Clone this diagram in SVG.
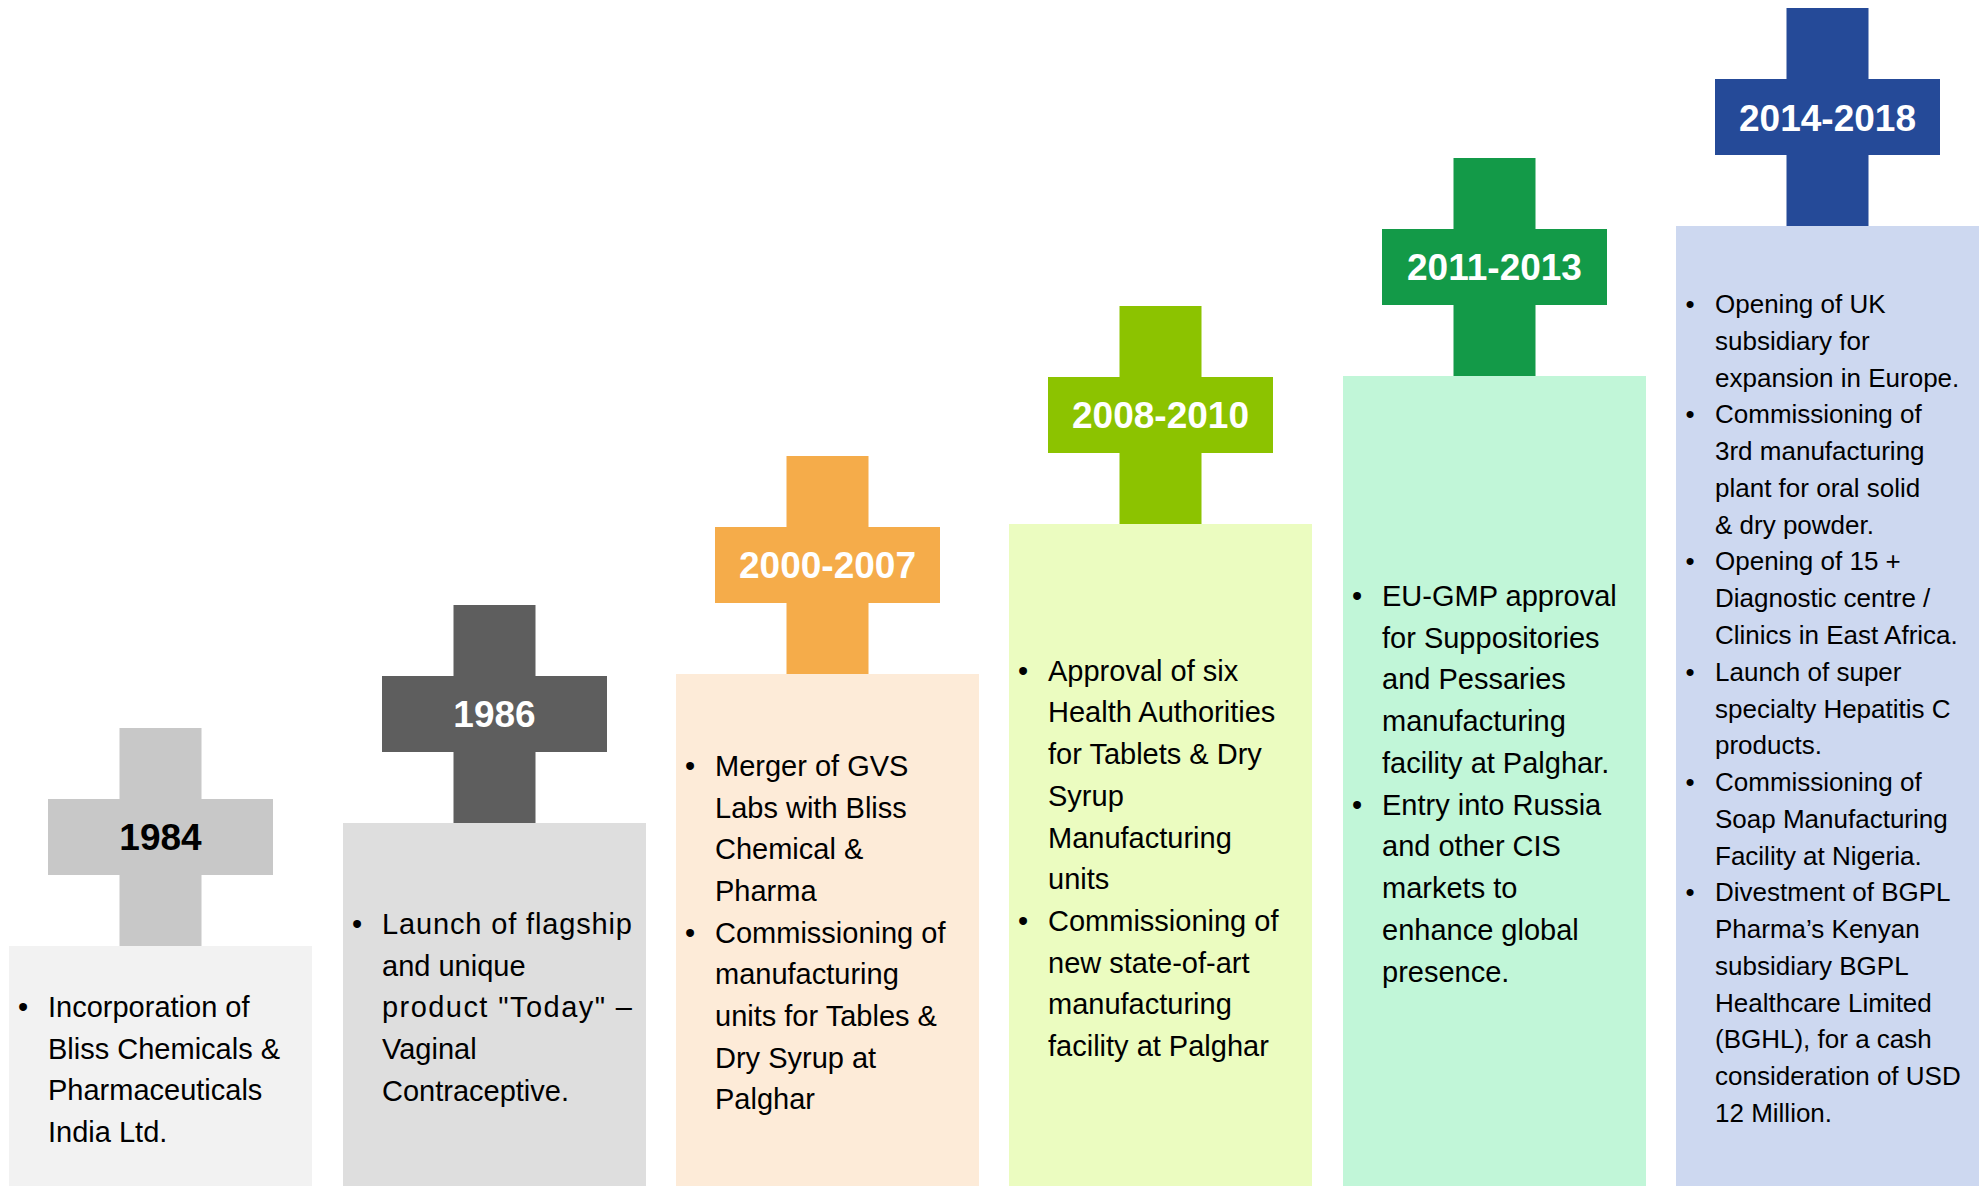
<svg xmlns="http://www.w3.org/2000/svg" width="1983" height="1186" viewBox="0 0 1983 1186">
<style>
.yr{font-family:"Liberation Sans",Arial,sans-serif;font-weight:bold;font-size:37px;text-anchor:middle}
.tx{font-family:"Liberation Sans",Arial,sans-serif;font-size:29px;fill:#000}
.tx6{font-family:"Liberation Sans",Arial,sans-serif;font-size:26px;fill:#000}
.bl{text-anchor:middle}
</style>
<rect width="1983" height="1186" fill="#fff"/>
<g id="connectors"/>
<g id="n1984">
<rect x="9" y="946" width="303" height="240" fill="#F2F2F2"/>
<path d="M119.5 728 H201.5 V799 H273 V875 H201.5 V946 H119.5 V875 H48 V799 H119.5 Z" fill="#C8C8C8"/>
<text class="yr" x="160.5" y="850" fill="#000">1984</text>
<text class="tx bl" x="23" y="1017">•</text>
<text class="tx"><tspan x="48" y="1017">Incorporation of</tspan><tspan x="48" y="1059">Bliss Chemicals &amp;</tspan><tspan x="48" y="1100">Pharmaceuticals</tspan><tspan x="48" y="1142">India Ltd.</tspan></text>
</g>
<g id="n1986">
<rect x="343" y="823" width="303" height="363" fill="#DEDEDE"/>
<path d="M453.5 605 H535.5 V676 H607 V752 H535.5 V823 H453.5 V752 H382 V676 H453.5 Z" fill="#5E5E5E"/>
<text class="yr" x="494.5" y="727" fill="#fff">1986</text>
<text class="tx bl" x="357" y="934">•</text>
<text class="tx"><tspan x="382" y="934" textLength="250" lengthAdjust="spacing">Launch of flagship</tspan><tspan x="382" y="976">and unique</tspan><tspan x="382" y="1017" textLength="250" lengthAdjust="spacing">product "Today" –</tspan><tspan x="382" y="1059">Vaginal</tspan><tspan x="382" y="1101">Contraceptive.</tspan></text>
</g>
<g id="n2000">
<rect x="676" y="674" width="303" height="512" fill="#FDEBD8"/>
<path d="M786.5 456 H868.5 V527 H940 V603 H868.5 V674 H786.5 V603 H715 V527 H786.5 Z" fill="#F5AC4A"/>
<text class="yr" x="827.5" y="578" fill="#fff">2000-2007</text>
<text class="tx bl" x="690" y="776">•</text>
<text class="tx bl" x="690" y="943">•</text>
<text class="tx"><tspan x="715" y="776">Merger of GVS</tspan><tspan x="715" y="818">Labs with Bliss</tspan><tspan x="715" y="859">Chemical &amp;</tspan><tspan x="715" y="901">Pharma</tspan><tspan x="715" y="943">Commissioning of</tspan><tspan x="715" y="984">manufacturing</tspan><tspan x="715" y="1026">units for Tables &amp;</tspan><tspan x="715" y="1068">Dry Syrup at</tspan><tspan x="715" y="1109">Palghar</tspan></text>
</g>
<g id="n2008">
<rect x="1009" y="524" width="303" height="662" fill="#EBFCC0"/>
<path d="M1119.5 306 H1201.5 V377 H1273 V453 H1201.5 V524 H1119.5 V453 H1048 V377 H1119.5 Z" fill="#8CC300"/>
<text class="yr" x="1160.5" y="428" fill="#fff">2008-2010</text>
<text class="tx bl" x="1023" y="681">•</text>
<text class="tx bl" x="1023" y="931">•</text>
<text class="tx"><tspan x="1048" y="681">Approval of six</tspan><tspan x="1048" y="722">Health Authorities</tspan><tspan x="1048" y="764">for Tablets &amp; Dry</tspan><tspan x="1048" y="806">Syrup</tspan><tspan x="1048" y="848">Manufacturing</tspan><tspan x="1048" y="889">units</tspan><tspan x="1048" y="931">Commissioning of</tspan><tspan x="1048" y="973">new state-of-art</tspan><tspan x="1048" y="1014">manufacturing</tspan><tspan x="1048" y="1056">facility at Palghar</tspan></text>
</g>
<g id="n2011">
<rect x="1343" y="376" width="303" height="810" fill="#C1F6D8"/>
<path d="M1453.5 158 H1535.5 V229 H1607 V305 H1535.5 V376 H1453.5 V305 H1382 V229 H1453.5 Z" fill="#139A48"/>
<text class="yr" x="1494.5" y="280" fill="#fff">2011-2013</text>
<text class="tx bl" x="1357" y="606">•</text>
<text class="tx bl" x="1357" y="815">•</text>
<text class="tx"><tspan x="1382" y="606">EU-GMP approval</tspan><tspan x="1382" y="648">for Suppositories</tspan><tspan x="1382" y="689">and Pessaries</tspan><tspan x="1382" y="731">manufacturing</tspan><tspan x="1382" y="773">facility at Palghar.</tspan><tspan x="1382" y="815">Entry into Russia</tspan><tspan x="1382" y="856">and other CIS</tspan><tspan x="1382" y="898">markets to</tspan><tspan x="1382" y="940">enhance global</tspan><tspan x="1382" y="982">presence.</tspan></text>
</g>
<g id="n2014">
<rect x="1676" y="226" width="303" height="960" fill="#CDD8F0"/>
<path d="M1786.5 8 H1868.5 V79 H1940 V155 H1868.5 V226 H1786.5 V155 H1715 V79 H1786.5 Z" fill="#254A98"/>
<text class="yr" x="1827.5" y="131" fill="#fff">2014-2018</text>
<text class="tx6 bl" x="1690" y="313">•</text>
<text class="tx6 bl" x="1690" y="423.3">•</text>
<text class="tx6 bl" x="1690" y="570.4">•</text>
<text class="tx6 bl" x="1690" y="680.7">•</text>
<text class="tx6 bl" x="1690" y="791">•</text>
<text class="tx6 bl" x="1690" y="901.3">•</text>
<text class="tx6"><tspan x="1715" y="313">Opening of UK</tspan><tspan x="1715" y="349.8">subsidiary for</tspan><tspan x="1715" y="386.5">expansion in Europe.</tspan><tspan x="1715" y="423.3">Commissioning of</tspan><tspan x="1715" y="460.1">3rd manufacturing</tspan><tspan x="1715" y="496.9">plant for oral solid</tspan><tspan x="1715" y="533.6">&amp; dry powder.</tspan><tspan x="1715" y="570.4">Opening of 15 +</tspan><tspan x="1715" y="607.2">Diagnostic centre /</tspan><tspan x="1715" y="643.9">Clinics in East Africa.</tspan><tspan x="1715" y="680.7">Launch of super</tspan><tspan x="1715" y="717.5">specialty Hepatitis C</tspan><tspan x="1715" y="754.2">products.</tspan><tspan x="1715" y="791">Commissioning of</tspan><tspan x="1715" y="827.8">Soap Manufacturing</tspan><tspan x="1715" y="864.6">Facility at Nigeria.</tspan><tspan x="1715" y="901.3">Divestment of BGPL</tspan><tspan x="1715" y="938.1">Pharma’s Kenyan</tspan><tspan x="1715" y="974.9">subsidiary BGPL</tspan><tspan x="1715" y="1011.6">Healthcare Limited</tspan><tspan x="1715" y="1048.4">(BGHL), for a cash</tspan><tspan x="1715" y="1085.2">consideration of USD</tspan><tspan x="1715" y="1122">12 Million.</tspan></text>
</g>
</svg>
